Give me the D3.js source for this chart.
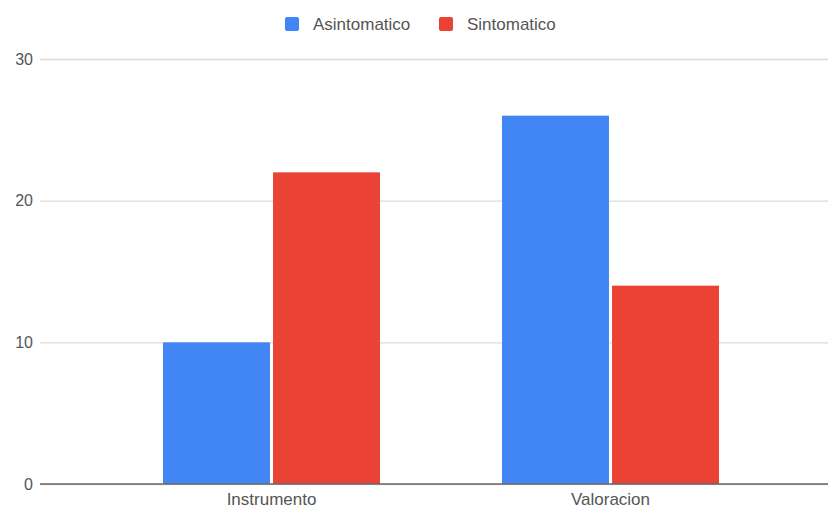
<!DOCTYPE html>
<html><head><meta charset="utf-8">
<script src="https://cdn.jsdelivr.net/npm/d3@7"></script>
<style>body{margin:0;background:#fff}svg{display:block}text{font-family:"Liberation Sans",Arial,sans-serif}</style>
</head><body><svg id="c" width="828" height="509"></svg>
<script>
const categories = ["Instrumento", "Valoracion"];
const seriesNames = ["Asintomatico", "Sintomatico"];
const asintomatico = [10, 26];
const sintomatico = [22, 14];
const yTicks = [0, 10, 20, 30];
const colors = ["#4285F4", "#EA4335"];

const svg = d3.select("#c");
const W = 828, H = 509;
const left = 40;
const y = d3.scaleLinear().domain([0, 30]).range([484, 59]);
const x = d3.scaleBand().domain(categories).range([102, 780]).paddingInner(0.36).paddingOuter(0.18);
const x1 = d3.scaleBand().domain(seriesNames).range([0, x.bandwidth()]).paddingInner(0.028);
const color = d3.scaleOrdinal().domain(seriesNames).range(colors);

// gridlines + y labels
const yAxis = d3.axisLeft(y).tickValues(yTicks).tickSize(-(W - left)).tickPadding(7).tickFormat(d3.format("d"));
const ga = svg.append("g").attr("transform", `translate(${left},0)`).call(yAxis);
ga.select(".domain").remove();
ga.selectAll(".tick line").attr("stroke", "#dcdcdc").attr("stroke-width", 1.3);
ga.selectAll(".tick text").attr("fill", "#555").attr("font-size", 16).attr("x", -7);

const data = categories.map((c, i) => ({cat: c, vals: [asintomatico[i], sintomatico[i]]}));
const groups = svg.append("g").selectAll("g").data(data).join("g")
  .attr("transform", d => `translate(${x(d.cat)},0)`);
groups.selectAll("rect").data(d => seriesNames.map((s, j) => ({s, v: d.vals[j]}))).join("rect")
  .attr("x", d => x1(d.s)).attr("width", x1.bandwidth())
  .attr("y", d => y(d.v)).attr("height", d => y(0) - y(d.v))
  .attr("fill", d => color(d.s));

// baseline
svg.append("line").attr("x1", left).attr("x2", W).attr("y1", y(0)).attr("y2", y(0))
  .attr("stroke", "#666").attr("stroke-width", 1.4);

// x axis labels
const xAxis = d3.axisBottom(x).tickSize(0).tickPadding(9);
const gx = svg.append("g").attr("transform", `translate(0,${y(0)})`).call(xAxis);
gx.select(".domain").remove();
gx.selectAll(".tick text").attr("fill", "#555").attr("font-size", 17);

// legend
const legendX = [285, 439];
const lg = svg.append("g").selectAll("g").data(seriesNames).join("g")
  .attr("transform", (d, i) => `translate(${legendX[i]},17)`);
lg.append("rect").attr("width", 14).attr("height", 14).attr("rx", 2).attr("fill", d => color(d));
lg.append("text").attr("x", 28).attr("y", 13).attr("font-size", 17).attr("fill", "#555").text(d => d);
</script></body></html>
